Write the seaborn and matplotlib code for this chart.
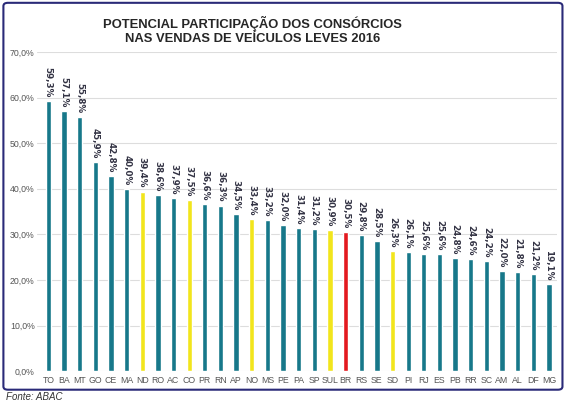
import pandas as pd
import matplotlib.pyplot as plt
import seaborn as sns
from matplotlib.patches import FancyBboxPatch
from matplotlib.ticker import FuncFormatter

# dados
estados = ["TO", "BA", "MT", "GO", "CE", "MA", "ND", "RO", "AC", "CO", "PR", "RN", "AP",
           "NO", "MS", "PE", "PA", "SP", "SUL", "BR", "RS", "SE", "SD", "PI", "RJ", "ES",
           "PB", "RR", "SC", "AM", "AL", "DF", "MG"]
valores = [59.3, 57.1, 55.8, 45.9, 42.8, 40.0, 39.4, 38.6, 37.9, 37.5, 36.6, 36.3, 34.5,
           33.4, 33.2, 32.0, 31.4, 31.2, 30.9, 30.5, 29.8, 28.5, 26.3, 26.1, 25.6, 25.6,
           24.8, 24.6, 24.2, 22.0, 21.8, 21.2, 19.1]
regioes = ["ND", "CO", "NO", "SUL", "SD"]
total = "BR"

df = pd.DataFrame({"estado": estados, "valor": valores})

teal = "#17788a"
yellow = "#f2e51c"
red = "#e3191f"
cores = {e: (red if e == total else yellow if e in regioes else teal) for e in estados}

sns.set_style("white")
plt.rcParams["font.family"] = ["Liberation Sans", "DejaVu Sans"]

fig = plt.figure(figsize=(5.67, 4.03), dpi=100)
ax = fig.add_axes([0.066, 0.079, 0.916, 0.792])

sns.barplot(data=df, x="estado", y="valor", hue="estado", palette=cores,
            legend=False, width=0.34, saturation=1, ax=ax)

for i, v in enumerate(valores):
    ax.text(i, v + 0.8, f"{v:.1f}%".replace(".", ","), rotation=270,
            ha="center", va="bottom", fontsize=6.3, color="#333344",
            fontweight="bold", family="DejaVu Sans")

ax.set_ylim(0, 70)
ax.set_xlim(-0.7, 32.5)
ax.set_yticks(range(0, 71, 10))
ax.yaxis.set_major_formatter(FuncFormatter(lambda y, p: f"{y:.1f}%".replace(".", ",")))
ax.grid(axis="y", color="#dddddd", linewidth=0.8)
ax.set_axisbelow(True)
for s in ax.spines.values():
    s.set_visible(False)
ax.tick_params(axis="both", length=0, labelsize=6.3, labelcolor="#555555")
ax.tick_params(axis="y", pad=2)
ax.set_xlabel("")
ax.set_ylabel("")

fig.text(0.446, 0.924, "POTENCIAL PARTICIPAÇÃO DOS CONSÓRCIOS\nNAS VENDAS DE VEÍCULOS LEVES 2016",
         ha="center", va="center", fontsize=9.4, fontweight="bold", linespacing=1.2)

borda = FancyBboxPatch((0.006, 0.033), 0.986, 0.96, boxstyle="round,pad=0,rounding_size=0.008",
                       transform=fig.transFigure, fill=False, edgecolor="#2a2a78",
                       linewidth=1.5)
fig.patches.append(borda)

fig.text(0.01, 0.008, "Fonte: ABAC", fontsize=7, style="italic", color="#333333")

fig.savefig("out.png", dpi=100)
